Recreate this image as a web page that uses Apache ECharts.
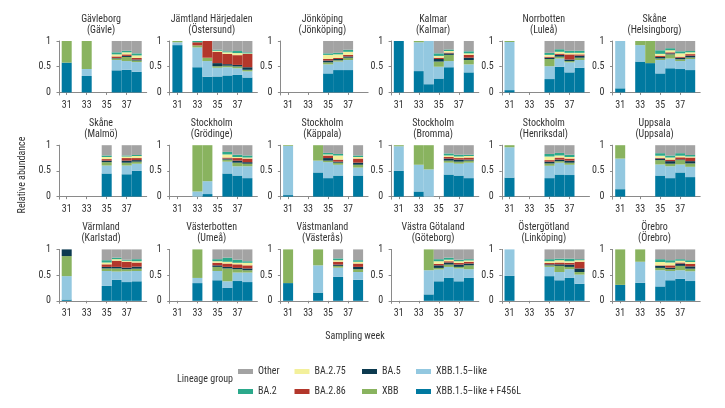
<!DOCTYPE html>
<html><head><meta charset="utf-8">
<script src="https://cdn.jsdelivr.net/npm/echarts@6/dist/echarts.min.js"></script>
<style>html,body{margin:0;padding:0;background:#fff}#c{width:725px;height:408px}</style>
</head><body><div id="c"></div>
<script>
const n = null;
const weeks = [31,32,33,34,35,36,37,38];
const xTickWeeks = [31,33,35,37];
const yTicks = [0,0.5,1];
const regions = ["Gävleborg","Jämtland Härjedalen","Jönköping","Kalmar","Norrbotten","Skåne","Skåne","Stockholm","Stockholm","Stockholm","Stockholm","Uppsala","Värmland","Västerbotten","Västmanland","Västra Götaland","Östergötland","Örebro"];
const plants = ["Gävle","Östersund","Jönköping","Kalmar","Luleå","Helsingborg","Malmö","Grödinge","Käppala","Bromma","Henriksdal","Uppsala","Karlstad","Umeå","Västerås","Göteborg","Linköping","Örebro"];
const lineages = ["XBB.1.5–like + F456L","XBB.1.5–like","XBB","BA.5","BA.2.86","BA.2.75","BA.2","Other"];
const colors = ["#0079a0","#93c8e0","#89b35f","#0c3a4f","#b3372b","#f3f09b","#2ba98b","#a3a3a3"];

const f456l = [
 [.58,n,.32,n,n,.43,.44,.40],
 [.92,n,.49,.305,.31,.33,.34,.29],
 [n,n,n,n,.37,.435,.435,n],
 [1,n,.415,.16,.27,.49,n,.39],
 [.045,n,n,n,.26,.50,.39,.48],
 [.08,n,.60,.57,.37,.47,.455,.435],
 [n,n,n,n,.45,n,.435,.50],
 [n,n,0,.05,n,.45,.41,.36],
 [.03,n,n,.47,.36,.41,n,.41],
 [.50,n,.10,0,n,.43,.41,.36],
 [.37,n,n,n,.36,.43,.42,n],
 [.145,n,n,n,.41,.36,.47,.38],
 [.025,n,n,n,.29,.41,.365,.38],
 [n,n,.345,n,.40,.25,.385,.365],
 [.345,n,n,.16,n,.465,n,.41],
 [n,n,n,.125,.38,.445,.38,.445],
 [.485,n,n,n,.48,.40,.445,.33],
 [.31,n,.35,n,.28,.40,.43,.385]
];
const xbb15 = [
 [0,n,.135,n,n,.20,.17,.19],
 [.055,n,.385,.305,.17,.16,.13,.12],
 [n,n,n,n,.175,.165,.195,n],
 [0,n,.56,.84,.23,.12,n,.155],
 [.935,n,n,n,.25,.16,.195,.15],
 [.92,n,.32,0,.26,.19,.155,.215],
 [n,n,n,n,.155,n,.17,.14],
 [n,n,.10,.25,n,.23,.18,.23],
 [.955,n,n,.23,.31,.21,n,.155],
 [.48,n,.52,.53,n,.23,.23,.30],
 [.59,n,n,n,.24,.23,.20,n],
 [.595,n,n,n,.215,.23,.155,.20],
 [.455,n,n,n,.29,.16,.21,.20],
 [n,n,.10,n,.18,.13,.165,.185],
 [0,n,n,.53,n,.18,n,.15],
 [n,n,n,.47,.23,.215,.25,.17],
 [.515,n,n,n,.18,.16,.17,.18],
 [0,n,.41,n,.315,.18,.165,.19]
];
const xbb = [
 [.42,n,.545,n,n,.03,.08,.03],
 [.025,n,.04,.065,.03,.03,.035,.03],
 [n,n,n,n,.04,.025,.045,n],
 [0,n,.025,0,.10,.12,n,.085],
 [.02,n,n,n,.14,.035,.025,.045],
 [0,n,.08,.43,.03,.08,.035,.03],
 [n,n,n,n,.065,n,.055,.04],
 [n,n,.90,.70,n,.04,.07,.05],
 [.015,n,n,.30,.03,.04,n,.055],
 [.02,n,.38,.47,n,.04,.04,.04],
 [.04,n,n,n,.045,.03,.04,n],
 [.26,n,n,n,.085,.05,.085,.065],
 [.39,n,n,n,.05,.06,.04,.045],
 [n,n,.555,n,.08,.25,.065,.045],
 [.655,n,n,.31,n,.035,n,.055],
 [n,n,n,.405,.03,.045,.03,.075],
 [0,n,n,n,.03,.12,.045,.05],
 [.69,n,.24,n,.045,.035,.085,.05]
];
const ba5 = [
 [0,n,0,n,n,.01,.02,.02],
 [0,n,0,0,.06,.03,.03,.05],
 [n,n,n,n,.035,.025,.025,n],
 [0,n,0,0,.05,.03,n,.045],
 [0,n,n,n,.025,.035,.03,.04],
 [0,n,0,0,.03,.02,.03,.035],
 [n,n,n,n,.03,n,.04,.03],
 [n,n,0,0,n,.02,.04,.03],
 [0,n,n,0,.05,.02,n,.04],
 [0,n,0,0,n,.04,.04,.02],
 [0,n,n,n,.035,.03,.04,n],
 [0,n,n,n,.03,.05,.015,.045],
 [.13,n,n,n,.03,.03,.03,.04],
 [n,n,0,n,.03,.03,.025,.035],
 [0,n,n,0,n,.025,n,.045],
 [n,n,n,0,.05,.04,.045,.035],
 [0,n,n,n,.02,.03,.045,.07],
 [0,n,0,n,.04,.03,.045,.045]
];
const ba286 = [
 [0,n,0,n,n,.03,.03,.03],
 [0,n,.06,.325,.22,.20,.19,.26],
 [n,n,n,n,.03,.02,.03,n],
 [0,n,0,0,.025,.015,n,.055],
 [0,n,n,n,.02,.025,.10,.025],
 [0,n,0,0,.025,.02,.02,.03],
 [n,n,n,n,.03,n,.05,.04],
 [n,n,0,0,n,.02,.05,.07],
 [0,n,n,0,.05,.04,n,.08],
 [0,n,0,0,n,.03,.03,.04],
 [0,n,n,n,.03,.04,.04,n],
 [0,n,n,n,.015,.03,.04,.07],
 [0,n,n,n,.05,.12,.115,.08],
 [n,n,0,n,.05,.065,.07,.06],
 [0,n,n,0,n,.055,n,.065],
 [n,n,n,0,.03,.025,.03,.035],
 [0,n,n,n,.025,.035,.035,.13],
 [0,n,0,n,.01,.045,.02,.05]
];
const ba275 = [
 [0,n,0,n,n,.04,.04,.05],
 [0,n,0,0,.02,.03,.04,.01],
 [n,n,n,n,.08,.07,.06,n],
 [0,n,0,0,.035,.03,n,.03],
 [0,n,n,n,.035,.035,.03,.03],
 [0,n,0,0,.035,.04,.065,.035],
 [n,n,n,n,.04,n,.03,.04],
 [n,n,0,0,n,.06,.02,.02],
 [0,n,n,0,.02,.08,n,.03],
 [0,n,0,0,n,.03,.03,.03],
 [0,n,n,n,.07,.04,.03,n],
 [0,n,n,n,.04,.04,.03,.02],
 [0,n,n,n,.035,.03,.02,.025],
 [n,n,0,n,.03,.035,.03,.05],
 [0,n,n,0,n,.03,n,.035],
 [n,n,n,0,.05,.03,.035,.025],
 [0,n,n,n,.035,.045,.03,.03],
 [0,n,0,n,.065,.055,.035,.035]
];
const ba2 = [
 [0,n,0,n,n,.04,.03,.04],
 [0,n,.025,0,.02,.02,.04,.02],
 [n,n,n,n,.03,.03,.04,n],
 [0,n,0,0,.05,.03,n,.04],
 [0,n,n,n,.04,.05,.04,.04],
 [0,n,0,0,.07,.04,.04,.025],
 [n,n,n,n,.03,n,.02,.02],
 [n,n,0,0,n,.05,.045,.04],
 [0,n,n,0,.03,.03,n,.03],
 [0,n,0,0,n,.04,.035,.025],
 [0,n,n,n,.05,.05,.045,n],
 [0,n,n,n,.05,.04,.05,.03],
 [0,n,n,n,.045,.03,.02,.04],
 [n,n,0,n,.04,.08,.06,.03],
 [0,n,n,0,n,.035,n,.03],
 [n,n,n,0,.04,.04,.03,.025],
 [0,n,n,n,.04,.03,.05,.02],
 [0,n,0,n,.055,.045,.03,.035]
];
const other = [
 [0,n,0,n,n,.22,.19,.24],
 [0,n,0,0,.17,.20,.195,.22],
 [n,n,n,n,.24,.23,.17,n],
 [0,n,0,0,.24,.165,n,.20],
 [0,n,n,n,.23,.16,.19,.19],
 [0,n,0,0,.18,.14,.20,.195],
 [n,n,n,n,.20,n,.20,.19],
 [n,n,0,0,n,.13,.185,.20],
 [0,n,n,0,.15,.17,n,.20],
 [0,n,0,0,n,.16,.185,.185],
 [0,n,n,n,.17,.15,.185,n],
 [0,n,n,n,.155,.20,.155,.19],
 [0,n,n,n,.21,.16,.20,.19],
 [n,n,0,n,.19,.16,.20,.23],
 [0,n,n,0,n,.175,n,.21],
 [n,n,n,0,.19,.16,.20,.19],
 [0,n,n,n,.19,.18,.18,.19],
 [0,n,0,n,.19,.21,.19,.21]
];
const seriesValues = [f456l, xbb15, xbb, ba5, ba286, ba275, ba2, other];
const legendColumns = [["Other","BA.2"],["BA.2.75","BA.2.86"],["BA.5","XBB"],["XBB.1.5–like","XBB.1.5–like + F456L"]];

const FONT = "'Liberation Sans Narrow', 'Roboto Condensed', Roboto, sans-serif";
const TXT = '#333';
const AXC = '#8a8a8a';
const colLeft = c => 59 + 110.7 * c;
const rowTop = r => 41 + 104.2 * r;
const GW = 87.7, GH = 54;

const titles = [], grids = [], xAxes = [], yAxes = [], series = [];
regions.forEach((reg, i) => {
  const c = i % 6, r = Math.floor(i / 6);
  titles.push({
    text: reg + '\n(' + plants[i] + ')',
    left: colLeft(c) + 42, top: 13.5 + 104.2 * r, textAlign: 'center', padding: 0,
    textStyle: { fontSize: 10, fontWeight: 'normal', color: TXT, lineHeight: 11, fontFamily: FONT }
  });
  grids.push({ left: colLeft(c), top: rowTop(r), width: GW, height: GH });
  xAxes.push({
    type: 'value', gridIndex: i, min: 30.23, max: 39.0,
    axisLine: { show: true, lineStyle: { color: AXC, width: 1 } },
    axisTick: { show: true, customValues: xTickWeeks, length: 2.5, lineStyle: { color: AXC } },
    axisLabel: { customValues: xTickWeeks, margin: 5, fontSize: 10, color: TXT, fontFamily: FONT },
    splitLine: { show: false }
  });
  yAxes.push({
    type: 'value', gridIndex: i, min: -0.05, max: 1,
    axisLine: { show: true, lineStyle: { color: AXC, width: 1 } },
    axisTick: { show: true, customValues: yTicks, length: 2.5, lineStyle: { color: AXC } },
    axisLabel: { customValues: yTicks, margin: 8, fontSize: 10, color: TXT, fontFamily: FONT },
    splitLine: { show: false }
  });
  seriesValues.forEach((arr, k) => {
    series.push({
      type: 'bar', name: lineages[k], xAxisIndex: i, yAxisIndex: i, stack: 'p' + i,
      barWidth: 10, itemStyle: { color: colors[k] },
      emphasis: { disabled: true },
      encode: { x: 1, y: 0 },
      data: weeks.map((w, j) => [arr[i][j], w]).filter(d => d[0] !== null)
    });
  });
});

const legends = legendColumns.map((col, ci) => ({
  data: col, orient: 'vertical', left: [238, 294.5, 362, 416][ci], top: 366.5,
  padding: 0, itemGap: 10, itemWidth: 15, itemHeight: 5, icon: 'rect',
  textStyle: { fontSize: 10, color: TXT, fontFamily: FONT }, selectedMode: false
}));

const option = {
  animation: false,
  textStyle: { fontFamily: FONT },
  title: titles, grid: grids, xAxis: xAxes, yAxis: yAxes, legend: legends, series: series,
  graphic: [
    { type: 'text', x: 22, y: 175, rotation: Math.PI / 2,
      style: { text: 'Relative abundance', fontSize: 10, fill: TXT, fontFamily: FONT, align: 'center', verticalAlign: 'middle' } },
    { type: 'text', x: 355, y: 336,
      style: { text: 'Sampling week', fontSize: 10, fill: TXT, fontFamily: FONT, align: 'center', verticalAlign: 'middle' } },
    { type: 'text', x: 177, y: 379,
      style: { text: 'Lineage group', fontSize: 10, fill: TXT, fontFamily: FONT, align: 'left', verticalAlign: 'middle' } }
  ]
};
const chart = echarts.init(document.getElementById('c'), null, { renderer: 'canvas' });
chart.setOption(option);
</script></body></html>
